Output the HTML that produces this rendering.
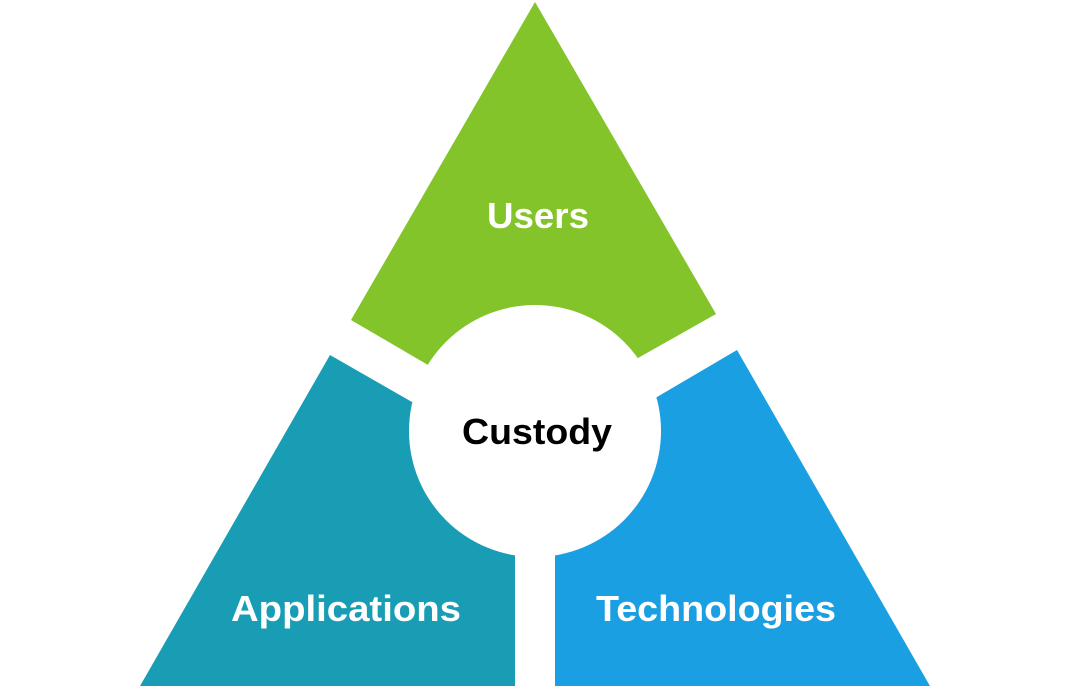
<!DOCTYPE html>
<html><head><style>
html,body{margin:0;padding:0;background:#fff;width:1080px;height:692px;overflow:hidden}
svg text{font-family:"Liberation Sans",sans-serif;font-weight:bold;text-anchor:middle}
</style></head><body>
<svg width="1080" height="692" viewBox="0 0 1080 692">
<polygon points="535,2 716,314 638,358 535,431 428,365 351,320" fill="#83c42a"/>
<polygon points="330,355 412,402 535,431 515,556 515,686 140,686" fill="#189db5"/>
<polygon points="737,350 930,686 555,686 555,556 535,431 657,397" fill="#1aa0e2"/>
<circle cx="535" cy="431" r="126" fill="#fff"/>
<text x="538" y="228" font-size="36" fill="#fff" textLength="102" lengthAdjust="spacingAndGlyphs">Users</text>
<text x="537" y="444" font-size="36" fill="#000" textLength="150" lengthAdjust="spacingAndGlyphs">Custody</text>
<text x="346" y="621" font-size="36" fill="#fff" textLength="230" lengthAdjust="spacingAndGlyphs">Applications</text>
<text x="716" y="621" font-size="36" fill="#fff" textLength="240" lengthAdjust="spacingAndGlyphs">Technologies</text>
</svg>
</body></html>
